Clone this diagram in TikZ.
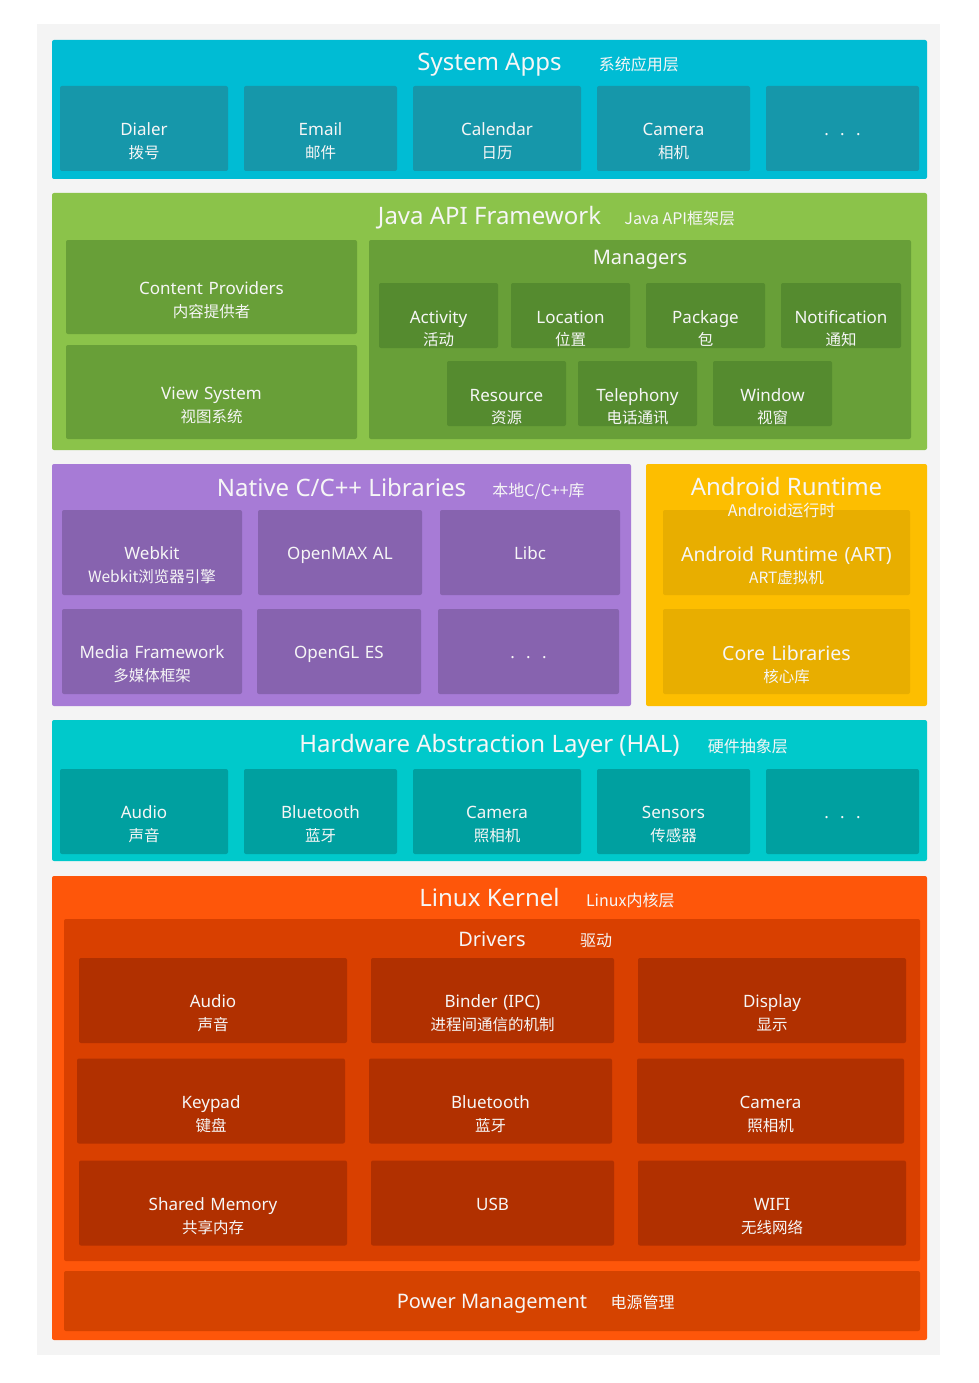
\documentclass[tikz,border=0pt]{standalone}
\usepackage{fontspec}
\setmainfont{Noto Sans}
\newfontfamily\cjk{Noto Sans CJK SC}
\usetikzlibrary{positioning}

\definecolor{panel}{HTML}{F4F4F4}
\definecolor{appsbg}{HTML}{00BCD4}
\definecolor{appsbox}{HTML}{1697AA}
\definecolor{javabg}{HTML}{8BC34A}
\definecolor{javabox}{HTML}{689F38}
\definecolor{mgrbox}{HTML}{558B2F}
\definecolor{nativebg}{HTML}{A77BD6}
\definecolor{nativebox}{HTML}{8763AF}
\definecolor{artbg}{HTML}{FDBE00}
\definecolor{artbox}{HTML}{E8AE00}
\definecolor{halbg}{HTML}{00C9CB}
\definecolor{halbox}{HTML}{00A0A0}
\definecolor{kernbg}{HTML}{FE560A}
\definecolor{drvbg}{HTML}{D94000}
\definecolor{drvbox}{HTML}{B13000}
\definecolor{pmbox}{HTML}{D54300}
\definecolor{txt}{HTML}{F6F6F6}

\newcommand{\zh}[1]{{\cjk\fontsize{15.5}{23}\selectfont #1}}

\tikzset{
    layer/.style={rectangle, rounded corners=2pt, inner sep=0pt},
    wd/.style={minimum width=#1pt, text width=#1pt},
    cell/.style={rectangle, rounded corners=2pt, inner sep=0pt, align=center, text=txt, font=\fontsize{17}{23}\selectfont, minimum height=85pt, text height=49.5pt, text depth=35.5pt},
    tallcell/.style={cell, minimum height=94pt, text height=54pt, text depth=40pt},
    mgr/.style={cell, fill=mgrbox, wd=119, minimum height=65pt, text height=40pt, text depth=25pt, font=\fontsize{17}{22}\selectfont},
    artcell/.style={cell, fill=artbox, wd=247, text height=51pt, text depth=34pt, font=\fontsize{19.5}{22}\selectfont},
    title/.style={text=txt, inner sep=0pt, anchor=base, font=\fontsize{24}{28}\selectfont},
    heading/.style={title, font=\fontsize{20}{24}\selectfont},
    subtitle/.style={text=txt, inner sep=0pt, anchor=base, font=\cjk\fontsize{16}{20}\selectfont}
}

\begin{document}
\begin{tikzpicture}[x=1pt, y=-1pt]
    \fill[white] (0,0) rectangle (978,1383);
    \useasboundingbox (0,0) rectangle (978,1383);
    \node (panel) [layer, sharp corners, fill=panel, minimum width=903pt, minimum height=1331pt] at (488.5,689.5) {};

    % layers
    \node (apps) [layer, fill=appsbg, minimum width=875pt, minimum height=139pt] at (489.5,109.5) {};
    \node (java) [layer, fill=javabg, minimum width=875pt, minimum height=257pt] at (489.5,321.5) {};
    \node (native) [layer, fill=nativebg, minimum width=579pt, minimum height=242pt] at (341.5,585) {};
    \node (runtime) [layer, fill=artbg, minimum width=281pt, minimum height=242pt] at (786.5,585) {};
    \node (hal) [layer, fill=halbg, minimum width=875pt, minimum height=141pt] at (489.5,790.5) {};
    \node (kernel) [layer, fill=kernbg, minimum width=875pt, minimum height=464pt] at (489.5,1108) {};

    % system apps
    \node (dialer) [cell, fill=appsbox, wd=168] at (144,128.5) {Dialer\\\zh{拨号}};
    \node (email) [cell, fill=appsbox, wd=153] at (320.5,128.5) {Email\\\zh{邮件}};
    \node (calendar) [cell, fill=appsbox, wd=168] at (497,128.5) {Calendar\\\zh{日历}};
    \node (camera) [cell, fill=appsbox, wd=153] at (673.5,128.5) {Camera\\\zh{相机}};
    \node (appsmore) [cell, fill=appsbox, wd=153] at (842.5,128.5) {.\ \ .\ \ .};

    % java api framework
    \node (providers) [tallcell, fill=javabox, wd=291] at (211.5,287) {Content Providers\\\zh{内容提供者}};
    \node (viewsys) [tallcell, fill=javabox, wd=291] at (211.5,392) {View System\\\zh{视图系统}};
    \node (managers) [layer, fill=javabox, minimum width=542pt, minimum height=199pt] at (640,339.5) {};
    \node (activity) [mgr] at (438.5,315.5) {Activity\\\zh{活动}};
    \node (location) [mgr] at (570.5,315.5) {Location\\\zh{位置}};
    \node (package) [mgr] at (705.5,315.5) {Package\\\zh{包}};
    \node (notification) [mgr, wd=120] at (841,315.5) {Notification\\\zh{通知}};
    \node (resource) [mgr] at (506.5,393.5) {Resource\\\zh{资源}};
    \node (telephony) [mgr] at (637.5,393.5) {Telephony\\\zh{电话通讯}};
    \node (window) [mgr] at (772.5,393.5) {Window\\\zh{视窗}};

    % native libraries
    \node (webkit) [cell, fill=nativebox, wd=180] at (152,552.5) {Webkit\\\zh{Webkit浏览器引擎}};
    \node (openmax) [cell, fill=nativebox, wd=164] at (340,552.5) {OpenMAX AL};
    \node (libc) [cell, fill=nativebox, wd=180] at (530,552.5) {Libc};
    \node (media) [cell, fill=nativebox, wd=180] at (152,651.5) {Media Framework\\\zh{多媒体框架}};
    \node (opengl) [cell, fill=nativebox, wd=164] at (339,651.5) {OpenGL ES};
    \node (nativemore) [cell, fill=nativebox, wd=181] at (528.5,651.5) {.\ \ .\ \ .};

    % android runtime
    \node (art) [artcell] at (786.5,552.5) {Android Runtime (ART)\\\zh{ART虚拟机}};
    \node (corelibs) [artcell] at (786.5,651.5) {Core Libraries\\\zh{核心库}};

    % hal
    \node (halaudio) [cell, fill=halbox, wd=168] at (144,811.5) {Audio\\\zh{声音}};
    \node (halbt) [cell, fill=halbox, wd=153] at (320.5,811.5) {Bluetooth\\\zh{蓝牙}};
    \node (halcam) [cell, fill=halbox, wd=168] at (497,811.5) {Camera\\\zh{照相机}};
    \node (sensors) [cell, fill=halbox, wd=153] at (673.5,811.5) {Sensors\\\zh{传感器}};
    \node (halmore) [cell, fill=halbox, wd=153] at (842.5,811.5) {.\ \ .\ \ .};

    % linux kernel
    \node (drivers) [layer, fill=drvbg, minimum width=856pt, minimum height=342pt] at (492,1090) {};
    \node (kaudio) [cell, fill=drvbox, wd=268] at (213,1000.5) {Audio\\\zh{声音}};
    \node (binder) [cell, fill=drvbox, wd=243] at (492.5,1000.5) {Binder (IPC)\\\zh{进程间通信的机制}};
    \node (display) [cell, fill=drvbox, wd=268] at (772,1000.5) {Display\\\zh{显示}};
    \node (keypad) [cell, fill=drvbox, wd=268] at (211,1101) {Keypad\\\zh{键盘}};
    \node (kbt) [cell, fill=drvbox, wd=243] at (490.5,1101) {Bluetooth\\\zh{蓝牙}};
    \node (kcam) [cell, fill=drvbox, wd=267] at (770.5,1101) {Camera\\\zh{照相机}};
    \node (shmem) [cell, fill=drvbox, wd=268] at (213,1203) {Shared Memory\\\zh{共享内存}};
    \node (usb) [cell, fill=drvbox, wd=243] at (492.5,1203) {USB};
    \node (wifi) [cell, fill=drvbox, wd=268] at (772,1203) {WIFI\\\zh{无线网络}};
    \node (power) [layer, fill=pmbox, minimum width=856pt, minimum height=60pt] at (492,1301) {};

    % titles
    \node (appsT) [title] at (489.5,71) {System Apps};
    \node (appsS) [subtitle, right=37pt of appsT.base east, anchor=base west] {系统应用层};
    \node (javaT) [title] at (489.5,224) {Java API Framework};
    \node (javaS) [subtitle, right=23pt of javaT.base east, anchor=base west] {Java API框架层};
    \node (managersT) [heading] at (640,264) {Managers};
    \node (nativeT) [title] at (341.5,496) {Native C/C++ Libraries};
    \node (nativeS) [subtitle, right=26pt of nativeT.base east, anchor=base west] {本地C/C++库};
    \node (runtimeT) [title] at (786.5,495) {Android Runtime};
    \node (runtimeS) [subtitle] at (781.5,516) {Android运行时};
    \node (halT) [title] at (489.5,752) {Hardware Abstraction Layer (HAL)};
    \node (halS) [subtitle, right=28pt of halT.base east, anchor=base west] {硬件抽象层};
    \node (kernelT) [title] at (489.5,906) {Linux Kernel};
    \node (kernelS) [subtitle, right=26pt of kernelT.base east, anchor=base west] {Linux内核层};
    \node (driversT) [heading] at (492,946) {Drivers};
    \node (driversS) [subtitle, right=54pt of driversT.base east, anchor=base west] {驱动};
    \node (powerT) [heading] at (492,1308) {Power Management};
    \node (powerS) [subtitle, right=23pt of powerT.base east, anchor=base west] {电源管理};
\end{tikzpicture}
\end{document}
